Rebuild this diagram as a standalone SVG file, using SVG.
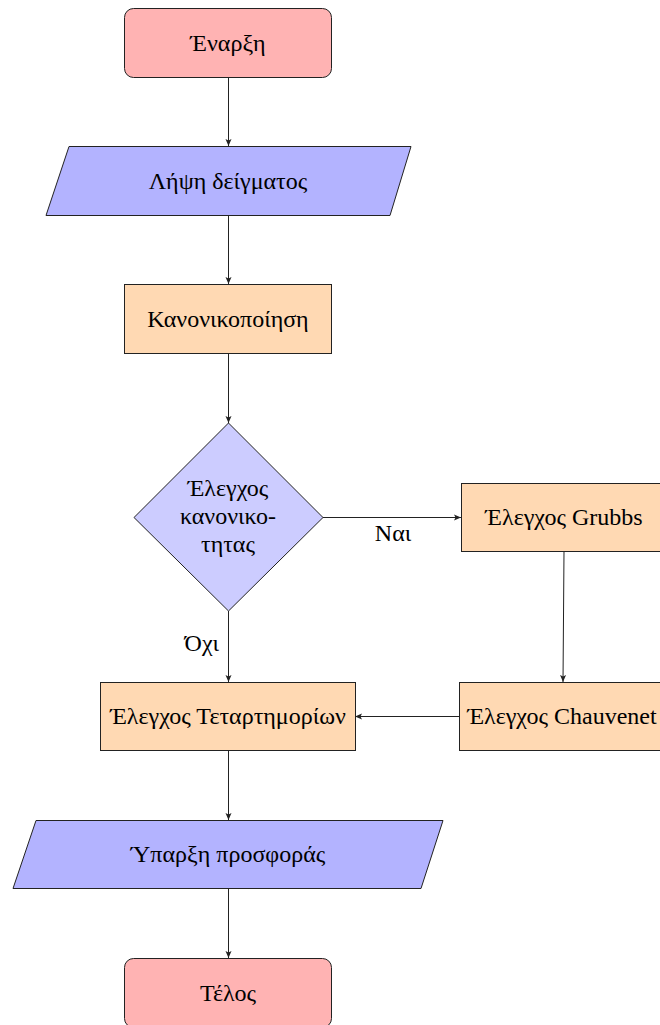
<svg xmlns="http://www.w3.org/2000/svg" width="660" height="1025" viewBox="0 0 660 1025">
<style>
.t{font-family:"Liberation Serif","Times New Roman",serif;font-size:24px;fill:#000;text-anchor:middle}
.s{stroke:#222;stroke-width:1}
.term{fill:#ffb3b3}
.io{fill:#b3b3ff}
.proc{fill:#ffd9b3}
.dec{fill:#ccccff}
.c{stroke:#222;stroke-width:1;fill:none;marker-end:url(#ah)}
</style>
<defs>
<marker id="ah" markerWidth="8" markerHeight="8" refX="7" refY="4" orient="auto" markerUnits="userSpaceOnUse">
<path d="M0,1 L7,4 L0,7 L1.5,4 Z" fill="#222"/>
</marker>
</defs>
<rect width="660" height="1025" fill="#fff"/>
<g id="connectors">
<line class="c" x1="228.5" y1="77" x2="228.5" y2="146"/>
<line class="c" x1="228.5" y1="215" x2="228.5" y2="284"/>
<line class="c" x1="228.5" y1="353" x2="228.5" y2="423"/>
<line class="c" x1="323" y1="517.5" x2="461" y2="517.5"/>
<line class="c" x1="564" y1="551" x2="563" y2="682"/>
<line class="c" x1="459" y1="716.5" x2="355" y2="716.5"/>
<line class="c" x1="228.5" y1="611" x2="228.5" y2="682"/>
<line class="c" x1="228.5" y1="750" x2="228.5" y2="820"/>
<line class="c" x1="228.5" y1="888" x2="228.5" y2="958"/>
<text class="t" x="393" y="541">Ναι</text>
<text class="t" x="219" y="651" style="text-anchor:end">Όχι</text>
</g>
<g id="start">
<rect class="term s" x="124.5" y="8.5" width="207" height="69" rx="9"/>
<text class="t" x="228" y="51">Έναρξη</text>
</g>
<g id="sample">
<polygon class="io s" points="69,146.5 411,146.5 390,215.5 46,215.5"/>
<text class="t" x="228" y="189">Λήψη δείγματος</text>
</g>
<g id="normalize">
<rect class="proc s" x="124.5" y="284.5" width="207" height="69"/>
<text class="t" x="228" y="327">Κανονικοποίηση</text>
</g>
<g id="decision">
<polygon class="dec s" points="228.5,423 323,517.5 228.5,611 134,517.5"/>
<text class="t" x="228" y="496">Έλεγχος</text>
<text class="t" x="228" y="524">κανονικο-</text>
<text class="t" x="228" y="552">τητας</text>
</g>
<g id="grubbs">
<rect class="proc s" x="461.5" y="483.5" width="201" height="68"/>
<text class="t" x="564" y="525">Έλεγχος Grubbs</text>
</g>
<g id="chauvenet">
<rect class="proc s" x="459.5" y="682.5" width="203" height="68"/>
<text class="t" x="562" y="724">Έλεγχος Chauvenet</text>
</g>
<g id="quartiles">
<rect class="proc s" x="100.5" y="682.5" width="255" height="68"/>
<text class="t" x="228" y="724">Έλεγχος Τεταρτημορίων</text>
</g>
<g id="offer">
<polygon class="io s" points="36,820.5 443,820.5 421,888.5 13,888.5"/>
<text class="t" x="228" y="862">Ύπαρξη προσφοράς</text>
</g>
<g id="end">
<rect class="term s" x="124.5" y="958.5" width="207" height="69" rx="9"/>
<text class="t" x="228" y="1001">Τέλος</text>
</g>
</svg>
